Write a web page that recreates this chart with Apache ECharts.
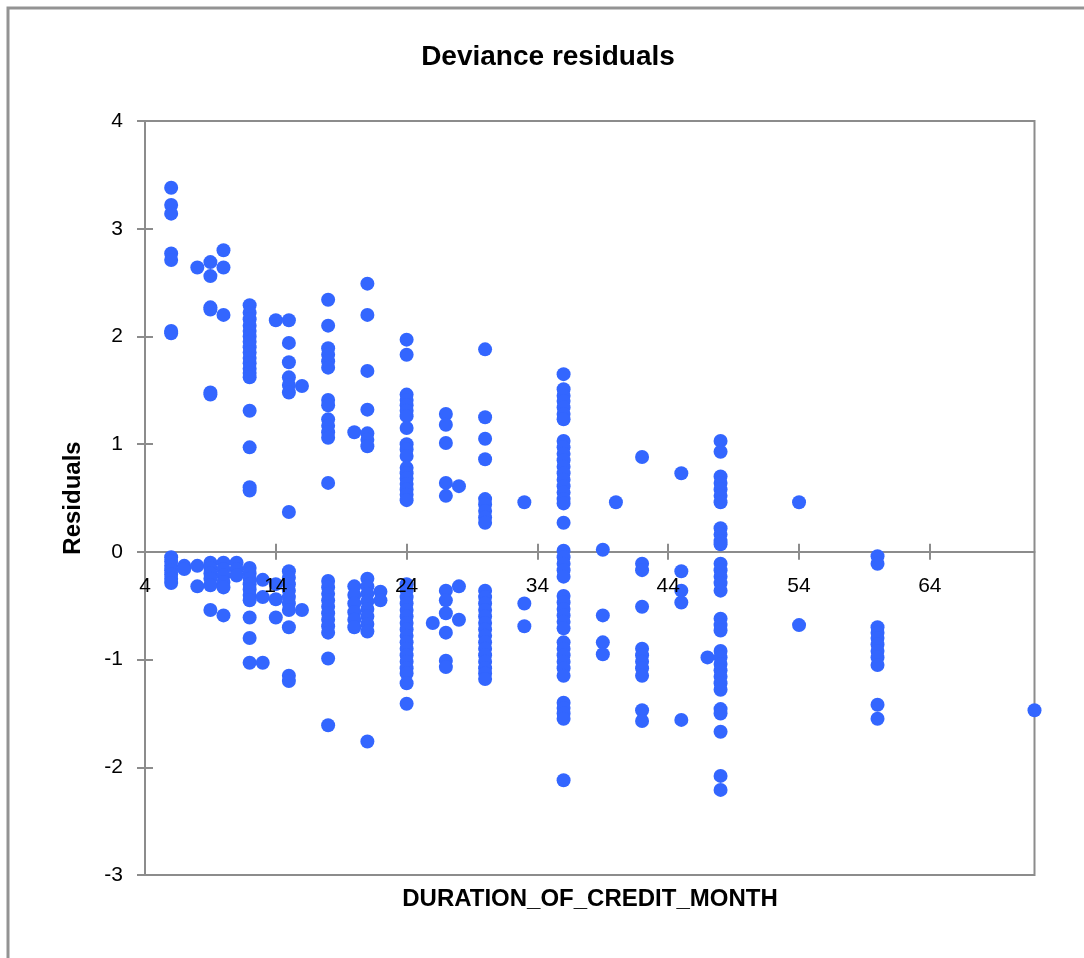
<!DOCTYPE html>
<html><head><meta charset="utf-8">
<script src="https://cdn.jsdelivr.net/npm/echarts@6/dist/echarts.min.js"></script>
<style>html,body{margin:0;padding:0;background:#fff}#c{width:1084px;height:958px}</style>
</head><body><div id="c"></div>
<script>
const titleText = 'Deviance residuals';
const xAxisTitle = 'DURATION_OF_CREDIT_MONTH';
const yAxisTitle = 'Residuals';
const xTicks = [4, 14, 24, 34, 44, 54, 64];
const xMin = 4, xMax = 72, yMin = -3, yMax = 4, yStep = 1;

const r6 = [3.38, 3.22, 3.14, 2.77, 2.71, 2.05, 2.03, -0.05, -0.09, -0.13, -0.17, -0.21, -0.25, -0.29];
const r7 = [-0.13, -0.16];
const r8 = [2.64, -0.13, -0.32];
const r9 = [2.69, 2.56, 2.27, 2.25, 1.48, 1.46, -0.10, -0.15, -0.20, -0.25, -0.31, -0.54];
const r10 = [2.80, 2.64, 2.20, -0.10, -0.16, -0.22, -0.28, -0.33, -0.59];
const r11 = [-0.10, -0.16, -0.22];
const r12 = [2.29, 2.22, 2.16, 2.10, 2.05, 2.00, 1.95, 1.90, 1.85, 1.80, 1.75, 1.70, 1.66, 1.62, 1.31, 0.97, 0.60, 0.57, -0.15, -0.20, -0.25, -0.30, -0.35, -0.40, -0.45, -0.61, -0.80, -1.03];
const r13 = [-0.26, -0.42, -1.03];
const r14 = [2.15, -0.30, -0.44, -0.61];
const r15 = [2.15, 1.94, 1.76, 1.62, 1.55, 1.48, 0.37, -0.18, -0.24, -0.30, -0.36, -0.42, -0.48, -0.54, -0.70, -1.15, -1.20];
const r16 = [1.54, -0.54];
const r18 = [2.34, 2.10, 1.89, 1.83, 1.77, 1.71, 1.41, 1.36, 1.23, 1.17, 1.11, 1.06, 0.64, -0.27, -0.33, -0.39, -0.45, -0.51, -0.57, -0.63, -0.69, -0.75, -0.99, -1.61];
const r20 = [1.11, -0.32, -0.40, -0.48, -0.56, -0.63, -0.70];
const r21 = [2.49, 2.20, 1.68, 1.32, 1.10, 1.04, 0.98, -0.25, -0.32, -0.39, -0.46, -0.53, -0.60, -0.67, -0.74, -1.76];
const r22 = [-0.37, -0.45];
const r24 = [1.97, 1.83, 1.46, 1.41, 1.36, 1.31, 1.26, 1.15, 1.00, 0.95, 0.89, 0.78, 0.73, 0.68, 0.63, 0.58, 0.53, 0.48, -0.30, -0.36, -0.42, -0.48, -0.54, -0.60, -0.66, -0.72, -0.78, -0.84, -0.90, -0.96, -1.02, -1.08, -1.13, -1.22, -1.41];
const r26 = [-0.66];
const r27 = [1.28, 1.18, 1.01, 0.64, 0.52, -0.36, -0.45, -0.57, -0.75, -1.01, -1.07];
const r28 = [0.61, -0.32, -0.63];
const r30 = [1.88, 1.25, 1.05, 0.86, 0.49, 0.44, 0.38, 0.32, 0.27, -0.36, -0.42, -0.48, -0.54, -0.60, -0.66, -0.72, -0.78, -0.84, -0.90, -0.96, -1.02, -1.08, -1.13, -1.18];
const r33 = [0.46, -0.48, -0.69];
const r36 = [1.65, 1.51, 1.45, 1.40, 1.34, 1.28, 1.23, 1.03, 0.97, 0.91, 0.85, 0.79, 0.73, 0.67, 0.61, 0.55, 0.49, 0.45, 0.27, 0.01, -0.05, -0.11, -0.17, -0.23, -0.41, -0.47, -0.53, -0.59, -0.65, -0.71, -0.84, -0.90, -0.96, -1.02, -1.08, -1.15, -1.40, -1.45, -1.50, -1.55, -2.12];
const r39 = [0.02, -0.59, -0.84, -0.95];
const r40 = [0.46];
const r42 = [0.88, -0.11, -0.17, -0.51, -0.90, -0.96, -1.02, -1.08, -1.15, -1.47, -1.57];
const r45 = [0.73, -0.18, -0.36, -0.47, -1.56];
const r47 = [-0.98];
const r48 = [1.03, 0.93, 0.70, 0.64, 0.58, 0.52, 0.46, 0.22, 0.16, 0.10, 0.07, -0.11, -0.17, -0.23, -0.29, -0.36, -0.62, -0.68, -0.73, -0.92, -0.98, -1.04, -1.10, -1.16, -1.22, -1.28, -1.46, -1.50, -1.67, -2.08, -2.21];
const r54 = [0.46, -0.68];
const r60 = [-0.04, -0.11, -0.70, -0.75, -0.80, -0.86, -0.92, -0.98, -1.05, -1.42, -1.55];
const r72 = [-1.47];

const durations = [6, 7, 8, 9, 10, 11, 12, 13, 14, 15, 16, 18, 20, 21, 22, 24, 26, 27, 28, 30, 33, 36, 39, 40, 42, 45, 47, 48, 54, 60, 72];
const residualColumns = [r6, r7, r8, r9, r10, r11, r12, r13, r14, r15, r16, r18, r20, r21, r22, r24, r26, r27, r28, r30, r33, r36, r39, r40, r42, r45, r47, r48, r54, r60, r72];

const points = [];
durations.forEach((d, i) => residualColumns[i].forEach(v => points.push([d, v])));

const GRAY = '#8c8c8c';
const FONT = 'Liberation Sans, Arial, sans-serif';
const chart = echarts.init(document.getElementById('c'), null, {renderer: 'canvas'});
chart.setOption({
  animation: false,
  backgroundColor: '#fff',
  grid: {left: 145, right: 49.5, top: 121, bottom: 83, show: true, borderColor: GRAY, borderWidth: 2, containLabel: false},
  graphic: [
    {type: 'rect', shape: {x: 8, y: 8, width: 1200, height: 1200}, style: {fill: 'none', stroke: '#939393', lineWidth: 3}, silent: true},
    {type: 'text', x: 548, y: 57, style: {text: titleText, font: 'bold 28px ' + FONT, fill: '#000', textAlign: 'center', textVerticalAlign: 'middle'}},
    {type: 'text', x: 590, y: 899, style: {text: xAxisTitle, font: 'bold 24px ' + FONT, fill: '#000', textAlign: 'center', textVerticalAlign: 'middle'}},
    {type: 'text', x: 73, y: 498, rotation: Math.PI / 2, style: {text: yAxisTitle, font: 'bold 24px ' + FONT, fill: '#000', textAlign: 'center', textVerticalAlign: 'middle'}}
  ],
  xAxis: [
    {type: 'value', position: 'bottom', min: xMin, max: xMax, offset: 0, z: 0,
     axisLine: {show: true, onZero: false, lineStyle: {color: GRAY, width: 2}},
     axisTick: {show: true, length: 8, inside: false, customValues: xTicks, lineStyle: {color: GRAY, width: 2}},
     axisLabel: {show: false},
     splitLine: {show: false}},
    {type: 'value', position: 'bottom', min: xMin, max: xMax, offset: 0, z: 0,
     axisLine: {show: false, onZero: false},
     axisTick: {show: true, length: 8, inside: true, customValues: xTicks, lineStyle: {color: GRAY, width: 2}},
     axisLabel: {show: false}, splitLine: {show: false}},
    {type: 'value', position: 'bottom', min: xMin, max: xMax, offset: 0, z: 10,
     axisLine: {show: false, onZero: false},
     axisTick: {show: false},
     axisLabel: {show: true, customValues: xTicks, margin: 24, color: '#000', fontSize: 21, fontFamily: FONT},
     splitLine: {show: false}}
  ],
  yAxis: [
    {type: 'value', position: 'left', min: yMin, max: yMax, interval: yStep,
     axisLine: {show: true, onZero: false, lineStyle: {color: GRAY, width: 2}},
     axisTick: {show: true, length: 8, inside: false, lineStyle: {color: GRAY, width: 2}},
     axisLabel: {margin: 22, color: '#000', fontSize: 21, fontFamily: FONT},
     splitLine: {show: false}},
    {type: 'value', position: 'left', min: yMin, max: yMax, interval: yStep, offset: 0,
     axisLine: {show: false, onZero: false},
     axisTick: {show: true, length: 8, inside: true, lineStyle: {color: GRAY, width: 2}},
     axisLabel: {show: false}, splitLine: {show: false}}
  ],
  series: [{
    type: 'scatter', xAxisIndex: 0, yAxisIndex: 0,
    data: points, symbol: 'circle', symbolSize: 14,
    itemStyle: {color: '#3366ff', opacity: 1},
    clip: false
  }]
});
// Move the x axes (line, ticks, labels) so that they cross the y axis at 0, as in the original.
const zeroPx = chart.convertToPixel({yAxisIndex: 0}, 0);
const bottomPx = chart.convertToPixel({yAxisIndex: 0}, yMin);
const shift = zeroPx - bottomPx;
chart.setOption({xAxis: [{offset: shift}, {offset: shift}, {offset: shift}]});
</script></body></html>
